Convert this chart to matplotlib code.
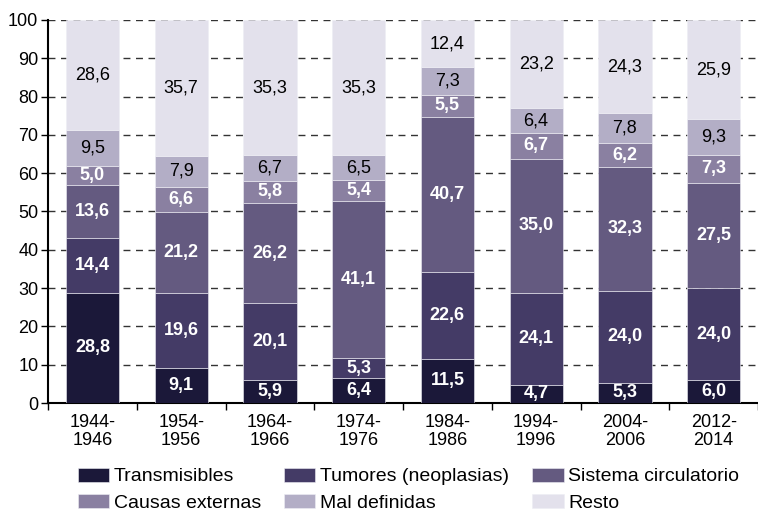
import matplotlib
matplotlib.use("Agg")
import matplotlib.pyplot as plt
import numpy as np

plt.rcParams['font.family'] = ['Liberation Sans', 'DejaVu Sans']

periods = ["1944-\n1946", "1954-\n1956", "1964-\n1966", "1974-\n1976",
           "1984-\n1986", "1994-\n1996", "2004-\n2006", "2012-\n2014"]

transmisibles = [28.8, 9.1, 5.9, 6.4, 11.5, 4.7, 5.3, 6.0]
tumores = [14.4, 19.6, 20.1, 5.3, 22.6, 24.1, 24.0, 24.0]
circulatorio = [13.6, 21.2, 26.2, 41.1, 40.7, 35.0, 32.3, 27.5]
externas = [5.0, 6.6, 5.8, 5.4, 5.5, 6.7, 6.2, 7.3]
mal_definidas = [9.5, 7.9, 6.7, 6.5, 7.3, 6.4, 7.8, 9.3]
resto = [28.6, 35.7, 35.3, 35.3, 12.4, 23.2, 24.3, 25.9]

series = [
    ("Transmisibles", transmisibles, "#1b1839", "white", "bold"),
    ("Tumores (neoplasias)", tumores, "#443b66", "white", "bold"),
    ("Sistema circulatorio", circulatorio, "#645a80", "white", "bold"),
    ("Causas externas", externas, "#8a80a1", "white", "bold"),
    ("Mal definidas", mal_definidas, "#b3aec6", "black", "normal"),
    ("Resto", resto, "#e3e1ec", "black", "normal"),
]

W, H = 758, 511
fig = plt.figure(figsize=(W / 100, H / 100), dpi=100)
ax = fig.add_axes([48 / W, 108 / H, (W - 48) / W, 383 / H])

x = np.arange(len(periods))
bottom = np.zeros(len(periods))
handles = {}
for name, vals, color, tcolor, weight in series:
    vals = np.array(vals)
    bars = ax.bar(x, vals, width=0.6, bottom=bottom, color=color,
                  edgecolor="#eeeef4", linewidth=0.4, zorder=3, label=name)
    handles[name] = bars
    for xi, b, v in zip(x, bottom, vals):
        ax.text(xi, b + v / 2, f"{v:.1f}".replace(".", ","),
                ha="center", va="center", color=tcolor, fontweight=weight,
                fontsize=13, zorder=4)
    bottom += vals

ax.set_ylim(0, 100)
ax.set_xlim(-0.5, 7.42)
ax.set_yticks(np.arange(0, 101, 10))
ax.tick_params(axis="y", labelsize=13, length=5, width=1, pad=2)
ax.set_xticks(x)
ax.set_xticklabels(periods, fontsize=13, linespacing=1.1)
ax.tick_params(axis="x", which="major", length=0, pad=8)
ax.set_xticks(np.arange(-0.5, 8.0, 1.0), minor=True)
ax.tick_params(axis="x", which="minor", length=5, width=1)

ax.yaxis.grid(True, linestyle=(0, (5, 4)), color="#333333", linewidth=1, zorder=0)
ax.set_axisbelow(True)
for side in ("top", "right"):
    ax.spines[side].set_visible(False)
for side in ("left", "bottom"):
    ax.spines[side].set_linewidth(1.5)
    ax.spines[side].set_color("black")

order = ["Transmisibles", "Causas externas", "Tumores (neoplasias)",
         "Mal definidas", "Sistema circulatorio", "Resto"]
fig.legend([handles[n] for n in order], order, ncol=3, loc="upper left",
           bbox_to_anchor=(62 / W, 1 - 452 / H), frameon=False, fontsize=14,
           handlelength=1.6, handleheight=0.75, handletextpad=0.25,
           columnspacing=1.2, labelspacing=0.42, borderpad=0.3)

fig.savefig("out.png", dpi=100)
